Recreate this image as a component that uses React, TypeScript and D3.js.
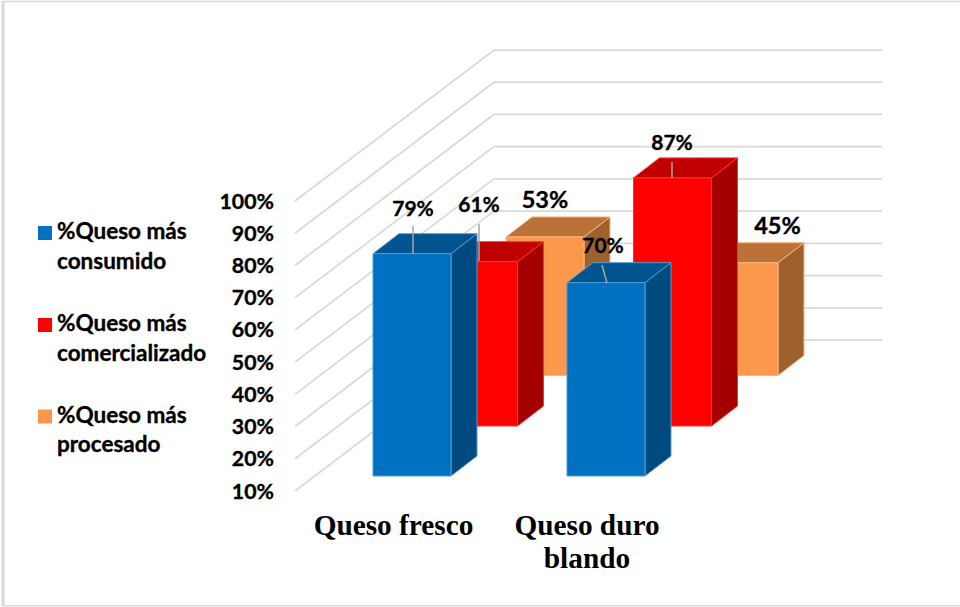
import React from "react";
import * as d3 from "d3";

const categories = ["Queso fresco", "Queso duro blando"];
const seriesNames = ["%Queso más consumido", "%Queso más comercializado", "%Queso más procesado"];
const consumido = [79, 70];
const comercializado = [61, 87];
const procesado = [53, 45];
const axisTicks = [10, 20, 30, 40, 50, 60, 70, 80, 90, 100];

const seriesValues = [consumido, comercializado, procesado];
const palette = [
  { front: "#0070C0", side: "#004A7F", top: "#005591", edge: "#4F9BD3" },
  { front: "#FF0000", side: "#A50000", top: "#C00000", edge: "#FF3030" },
  { front: "#FB984B", side: "#9E602D", top: "#BA7236", edge: "#F8B582" },
];

// Pixels of bar height for a value, measured up from the floor of the plot.
const rise = d3.scaleLinear().domain([10, 100]).range([0, 290]);
// Floor position of the back wall, and the depth vector of each bar.
const backFloorY = 340;
const wallLeft = 494;
const wallRight = 882;
const wallStartX = 295;
const wallStartDrop = 151;
const depth = { dx: 26, dy: -20 };
const barWidth = 78;
// Each series sits further back in the 3D scene than the previous one.
const seriesX = d3.scaleLinear().domain([0, 1]).range([0, 66.5]);
const seriesFloor = d3.scaleLinear().domain([0, 1, 2]).range([476, 426, 375.5]);
const categoryX = d3.scaleLinear().domain([0, 1]).range([373, 567]);

const poly = d3.line();

type Pt = [number, number];

function Bar({ cat, ser }: { cat: number; ser: number }) {
  const x0 = categoryX(cat) + seriesX(ser);
  const x1 = x0 + barWidth;
  const yb = seriesFloor(ser);
  const yt = yb - rise(seriesValues[ser][cat]);
  const c = palette[ser];
  const front: Pt[] = [[x0, yb], [x0, yt], [x1, yt], [x1, yb]];
  const top: Pt[] = [[x0, yt], [x0 + depth.dx, yt + depth.dy], [x1 + depth.dx, yt + depth.dy], [x1, yt]];
  const side: Pt[] = [[x1, yt], [x1 + depth.dx, yt + depth.dy], [x1 + depth.dx, yb + depth.dy], [x1, yb]];
  const common = { stroke: c.edge, strokeWidth: 1, strokeLinejoin: "round" as const };
  return (
    <g>
      <path d={poly(side) + "Z"} fill={c.side} {...common} />
      <path d={poly(top) + "Z"} fill={c.top} {...common} />
      <path d={poly(front) + "Z"} fill={c.front} {...common} />
    </g>
  );
}

const labelFont = "Lato, Carlito, sans-serif";
// A hairline outline thickens the sans labels to a heavier bold.
const labelInk = { fontFamily: labelFont, fontWeight: 700, fill: "#000", stroke: "#000", strokeWidth: 0.35 };
const dataLabels = [
  { s: 0, c: 0, x: 413, y: 216, lead: [[413, 226], [413, 254]] as Pt[] },
  { s: 1, c: 0, x: 479, y: 212, lead: [[479, 224], [479, 261]] as Pt[] },
  { s: 2, c: 0, x: 545, y: 208, lead: null },
  { s: 0, c: 1, x: 603, y: 253, lead: [[602, 265], [607, 283]] as Pt[] },
  { s: 1, c: 1, x: 672, y: 150, lead: [[672, 162], [672, 178]] as Pt[] },
  { s: 2, c: 1, x: 777.5, y: 234, lead: null },
];

const legendRows = [
  { y: 233, lines: ["%Queso más", "consumido"] },
  { y: 325, lines: ["%Queso más", "comercializado"] },
  { y: 416.5, lines: ["%Queso más", "procesado"] },
];

export default function App() {
  const order: [number, number][] = [];
  [2, 1, 0].forEach((s) => [0, 1].forEach((c) => order.push([c, s])));
  return (
    <svg
      width={960}
      height={607}
      viewBox="0 0 960 607"
      style={{ position: "absolute", left: 0, top: 0, background: "#fff" }}
    >
      {/* Chart frame, open on the right-hand side */}
      <path d="M960 1.5H3.5V605.8H960" fill="none" stroke="#D9D9D9" strokeWidth={1.5} />
      <path d="M3 1V606" fill="none" stroke="#D9D9D9" strokeWidth={3} />

      {axisTicks.map((t) => {
        const yBack = backFloorY - rise(t);
        const pts: Pt[] = [[wallStartX, yBack + wallStartDrop], [wallLeft, yBack], [wallRight, yBack]];
        return <path key={t} d={poly(pts)!} fill="none" stroke="#D9D9D9" strokeWidth={1.75} />;
      })}

      {axisTicks.map((t) => (
        <text
          key={t}
          x={274}
          y={backFloorY - rise(t) + wallStartDrop + 7.5}
          textAnchor="end"
          fontSize={21.3}
          {...labelInk}
        >
          {t}%
        </text>
      ))}

      {order.map(([c, s]) => (
        <Bar key={`${s}-${c}`} cat={c} ser={s} />
      ))}

      {dataLabels.map((d) =>
        d.lead ? <path key={`l${d.s}${d.c}`} d={poly(d.lead)!} stroke="#A6A6A6" strokeWidth={1.5} fill="none" /> : null
      )}
      {dataLabels.map((d) => (
        <text
          key={`t${d.s}${d.c}`}
          x={d.x}
          y={d.y}
          textAnchor="middle"
          fontSize={d.s === 2 ? 23.5 : 21}
          {...labelInk}
        >
          {seriesValues[d.s][d.c]}%
        </text>
      ))}

      {legendRows.map((r, i) => (
        <g key={seriesNames[i]}>
          <rect x={38} y={r.y - 7} width={14} height={14} fill={palette[i].front} />
          {r.lines.map((ln, j) => (
            <text key={ln} x={57} y={r.y + 6 + j * 29.5} fontSize={22.5} {...labelInk}>
              {ln}
            </text>
          ))}
        </g>
      ))}

      <g fontFamily="'Liberation Serif', serif" fontWeight={700} fontSize={29.3} fill="#000" textAnchor="middle">
        <text x={393.5} y={535}>{categories[0]}</text>
        <text x={587} y={535}>Queso duro</text>
        <text x={587} y={568}>blando</text>
      </g>
    </svg>
  );
}
